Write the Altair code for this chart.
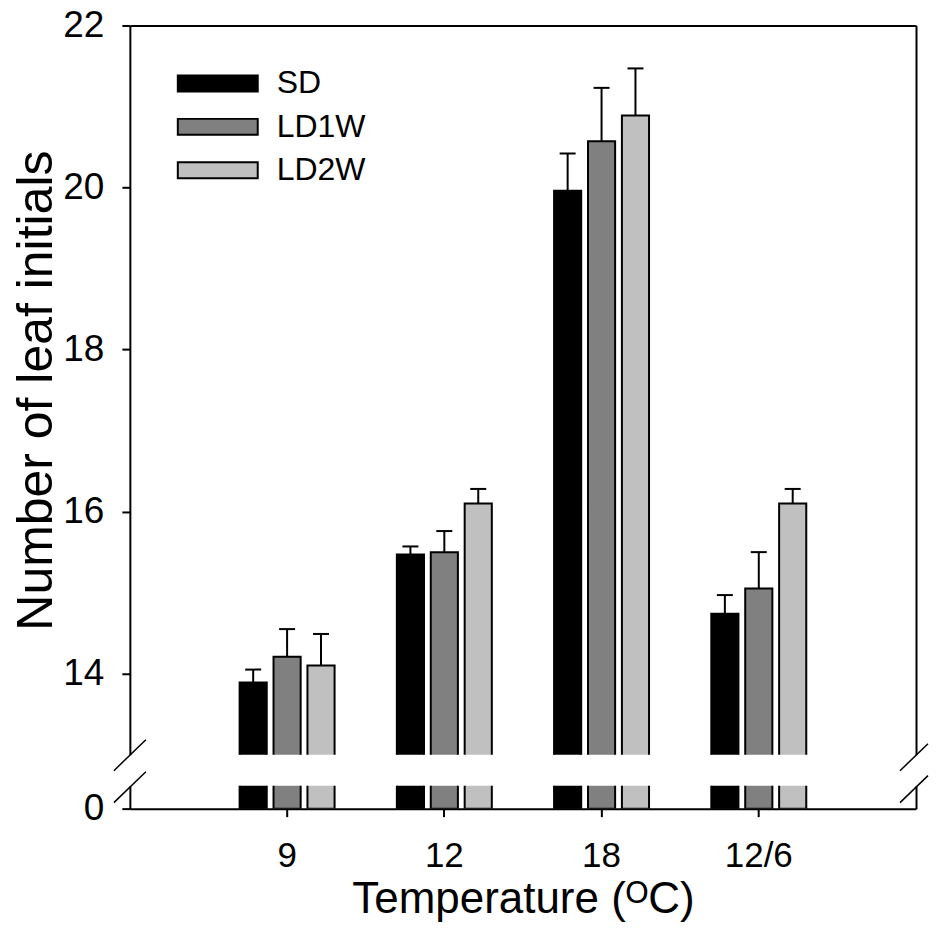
import altair as alt
import pandas as pd

# ---- data ----
temps = ["9", "12", "18", "12/6"]
treatments = ["SD", "LD1W", "LD2W"]
sd_mean = [13.89, 15.47, 19.96, 14.74]
sd_se = [0.16, 0.10, 0.46, 0.23]
ld1w_mean = [14.21, 15.50, 20.57, 15.05]
ld1w_se = [0.34, 0.26, 0.66, 0.45]
ld2w_mean = [14.10, 16.10, 20.89, 16.10]
ld2w_se = [0.39, 0.18, 0.58, 0.18]
fills = ["#000000", "#808080", "#c0c0c0"]
upper_ticks = [14, 16, 18, 20, 22]
lower_ticks = [0]

rows = []
for trt, means, ses in zip(treatments, [sd_mean, ld1w_mean, ld2w_mean],
                           [sd_se, ld1w_se, ld2w_se]):
    for t, m, s in zip(temps, means, ses):
        rows.append({"temp": t, "treatment": trt, "mean": m, "se": s})
df = pd.DataFrame(rows)

FONT = "Liberation Sans"
W = 787
H_TOP = 730
H_BOT = 23

x_scale = alt.Scale(domain=temps, paddingInner=0.396, paddingOuter=0.698)
xo_scale = alt.Scale(domain=treatments, paddingInner=0.2, paddingOuter=0)
xo = alt.XOffset("treatment:N", scale=xo_scale)

color = alt.Color(
    "treatment:N",
    scale=alt.Scale(domain=treatments, range=fills),
    legend=alt.Legend(
        title=None, orient="none", legendX=71, legendY=41,
        symbolType="M-2.5,-0.5H2.5V0.5H-2.5Z", symbolSize=1024,
        symbolStrokeColor="black", symbolStrokeWidth=2, symbolOpacity=1,
        labelFont=FONT, labelFontSize=32, labelColor="black",
        labelOffset=42, rowPadding=10.5,
    ),
)

axis_style = dict(
    domainColor="black", domainWidth=2, tickColor="black", tickWidth=2,
    tickSize=8, labelFont=FONT, labelFontSize=37, labelColor="black",
    titleFont=FONT, titleColor="black", titleFontWeight="normal",
    grid=False, labelFlush=False,
)
edge_style = dict(domainColor="black", domainWidth=2, labels=False,
                  ticks=False, title=None, grid=False)

base = alt.Chart(df).transform_calculate(upper="datum.mean + datum.se")
one_row = alt.Data(values=[{"k": 1}])

# ---- upper panel (13 .. 22) ----
y_top = alt.Scale(domain=[13, 22], nice=False, zero=False)
bars_top = base.mark_bar(stroke="black", strokeWidth=2, clip=True).encode(
    x=alt.X("temp:N", scale=x_scale, axis=None),
    xOffset=xo,
    y=alt.Y("mean:Q", scale=y_top,
            axis=alt.Axis(values=upper_ticks, title="Number of leaf initials",
                          titleFontSize=50, titlePadding=1, labelPadding=18,
                          **axis_style)),
    y2=alt.Y2(datum=0),
    color=color,
)
err_rule = base.mark_rule(color="black", strokeWidth=2).encode(
    x=alt.X("temp:N", scale=x_scale,
            axis=alt.Axis(orient="top", **edge_style)),
    xOffset=xo,
    y=alt.Y("mean:Q", scale=y_top, axis=None),
    y2="upper:Q",
)
err_cap = base.mark_tick(color="black", thickness=2, size=16, opacity=1).encode(
    x=alt.X("temp:N", scale=x_scale, axis=None),
    xOffset=xo,
    y=alt.Y("upper:Q", scale=y_top,
            axis=alt.Axis(orient="right", **edge_style)),
)
top = alt.layer(bars_top, err_rule, err_cap).resolve_axis(
    x="independent", y="independent").properties(width=W, height=H_TOP)

# ---- lower panel (0 ..) ----
x_axis_style = dict(axis_style, labelFontSize=35)
y_bot = alt.Scale(domain=[0, 1], nice=False)
bars_bot = base.mark_bar(stroke="black", strokeWidth=2, clip=True).encode(
    x=alt.X("temp:N", scale=x_scale,
            axis=alt.Axis(title="Temperature (\u1d3cC)", titleFontSize=44,
                          titlePadding=4, labelPadding=22, labelAngle=0,
                          **x_axis_style)),
    xOffset=xo,
    y=alt.Y("mean:Q", scale=y_bot,
            axis=alt.Axis(values=lower_ticks, title=None, labelPadding=18,
                          **axis_style)),
    y2=alt.Y2(datum=0),
    color=color,
)
edge_bot = alt.Chart(one_row).mark_rule(opacity=0).encode(
    y=alt.Y(datum=0, type="quantitative", scale=y_bot,
            axis=alt.Axis(orient="right", **edge_style)),
)


def slash(x0, y0, x1, y1):
    return alt.Chart(one_row).mark_rule(color="black", strokeWidth=1.5).encode(
        x=alt.value(x0), y=alt.value(y0), x2=alt.value(x1), y2=alt.value(y1))


slashes = [
    slash(-16, -15, 16, -46), slash(-16, 17, 16, -14),
    slash(W - 16, -15, W + 12, -42), slash(W - 16, 17, W + 12, -10),
]
bottom = alt.layer(bars_bot, edge_bot, *slashes).resolve_axis(
    y="independent").properties(width=W, height=H_BOT)

chart = alt.vconcat(top, bottom, spacing=31, bounds="flush").properties(
    padding={"left": 3, "top": -2, "right": 0, "bottom": 0},
    background="white",
).configure_view(stroke=None)

chart.save("out.html", embed_options={"renderer": "svg", "actions": False})
